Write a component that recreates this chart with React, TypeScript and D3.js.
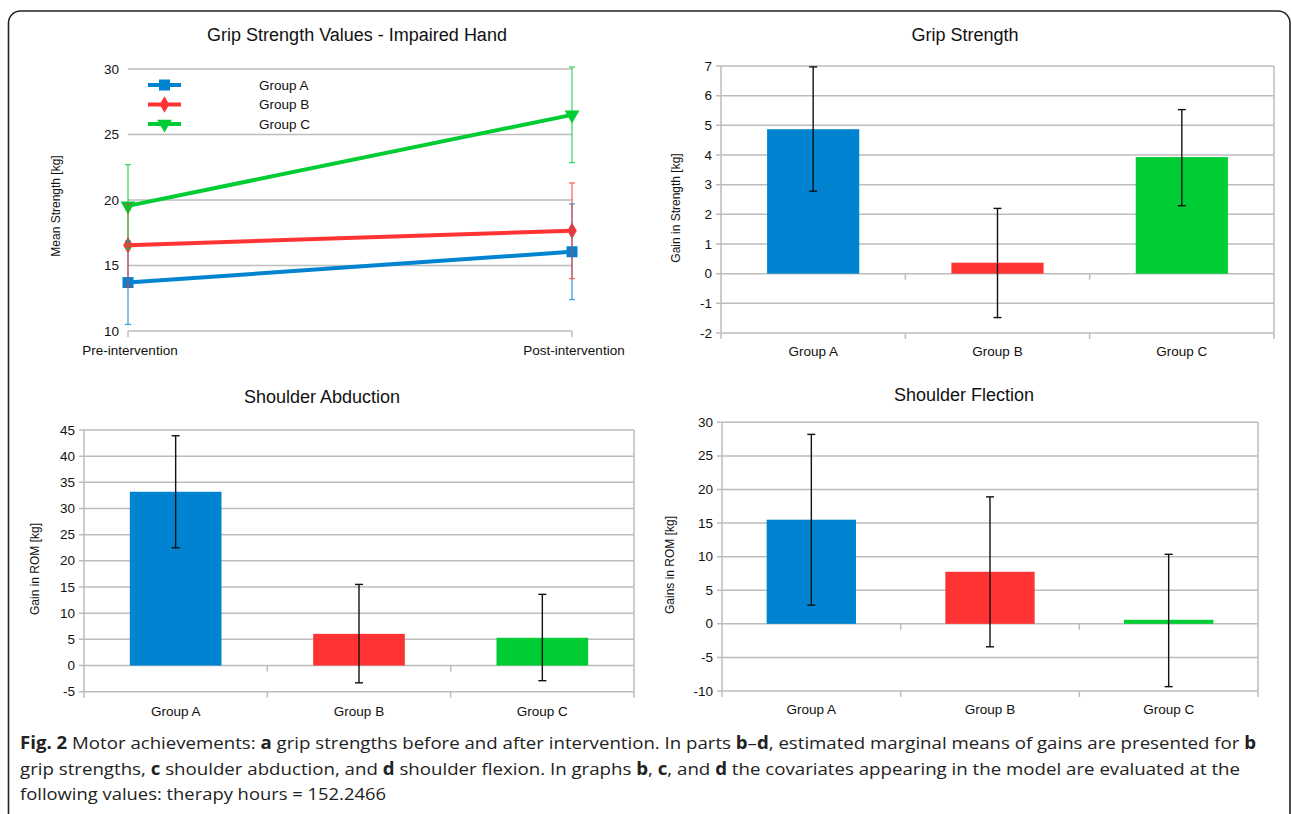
import React from "react";
import * as d3 from "d3";

// ---------- data ----------
const groups = ["Group A", "Group B", "Group C"];
const groupColors = ["#0084d1", "#ff3333", "#00cc33"];

// (a) grip strength values, impaired hand
const phases = ["Pre-intervention", "Post-intervention"];
const gripMeanA = [13.7, 16.05];
const gripLowA = [10.5, 12.4];
const gripHighA = [16.85, 19.7];
const gripMeanB = [16.55, 17.65];
const gripLowB = [13.4, 14.0];
const gripHighB = [19.7, 21.3];
const gripMeanC = [19.55, 26.5];
const gripLowC = [16.3, 22.85];
const gripHighC = [22.7, 30.15];
const gripTicks = [10, 15, 20, 25, 30];

// (b) gain in grip strength
const gainGrip = [4.87, 0.37, 3.93];
const gainGripLow = [2.78, -1.48, 2.29];
const gainGripHigh = [6.97, 2.2, 5.53];
const gainGripTicks = [-2, -1, 0, 1, 2, 3, 4, 5, 6, 7];

// (c) shoulder abduction
const abduction = [33.2, 6.05, 5.3];
const abductionLow = [22.5, -3.3, -2.9];
const abductionHigh = [43.9, 15.5, 13.6];
const abductionTicks = [-5, 0, 5, 10, 15, 20, 25, 30, 35, 40, 45];

// (d) shoulder flection
const flection = [15.5, 7.75, 0.6];
const flectionLow = [2.78, -3.42, -9.35];
const flectionHigh = [28.2, 18.9, 10.35];
const flectionTicks = [-10, -5, 0, 5, 10, 15, 20, 25, 30];

const FONT = "'Liberation Sans', Arial, sans-serif";
const GRID = "#bdbdbd";

function GripLineChart() {
  const x = d3.scalePoint<string>().domain(phases).range([128, 572]);
  const y = d3.scaleLinear().domain([10, 30]).range([331, 69]);
  const series = [
    { mean: gripMeanA, low: gripLowA, high: gripHighA, sym: "square" },
    { mean: gripMeanB, low: gripLowB, high: gripHighB, sym: "diamond" },
    { mean: gripMeanC, low: gripLowC, high: gripHighC, sym: "tri" },
  ];
  const line = d3
    .line<number>()
    .x((_, i) => x(phases[i]) as number)
    .y((d) => y(d));
  const marker = (sym: string, cx: number, cy: number, color: string, key: string) => {
    if (sym === "square")
      return <rect key={key} x={cx - 5.5} y={cy - 5.5} width={11} height={11} fill={color} />;
    if (sym === "diamond")
      return (
        <path key={key} d={d3.symbol(d3.symbolDiamond, 80)() as string} transform={`translate(${cx},${cy})`} fill={color} />
      );
    return (
      <path key={key} d={d3.symbol(d3.symbolTriangle, 95)() as string} transform={`translate(${cx},${cy}) rotate(180)`} fill={color} />
    );
  };
  const [x0, x1] = x.range();
  return (
    <g fontFamily={FONT}>
      <text x={357} y={35} textAnchor="middle" dominantBaseline="central" fontSize={18} fill="#111">
        Grip Strength Values - Impaired Hand
      </text>
      {gripTicks.map((t) => (
        <g key={t}>
          <line x1={x0} x2={x1} y1={y(t)} y2={y(t)} stroke={GRID} strokeWidth={1.5} />
          <text x={119} y={y(t)} textAnchor="end" dominantBaseline="central" fontSize={13.5} fill="#111">
            {t}
          </text>
        </g>
      ))}
      {phases.map((p) => (
        <g key={p}>
          <line x1={x(p)} x2={x(p)} y1={y(10)} y2={y(10) + 6} stroke={GRID} strokeWidth={1.5} />
          <text x={(x(p) as number) + 2} y={350} textAnchor="middle" dominantBaseline="central" fontSize={13.5} fill="#111">
            {p}
          </text>
        </g>
      ))}
      <text
        transform={`translate(56,206) rotate(-90)`}
        textAnchor="middle"
        dominantBaseline="central"
        fontSize={12}
        fill="#111"
      >
        Mean Strength [kg]
      </text>
      {series.map((s, si) => (
        <path key={"l" + si} d={line(s.mean) as string} fill="none" stroke={groupColors[si]} strokeWidth={4} />
      ))}
      {series.map((s, si) => s.mean.map((m, i) => marker(s.sym, x(phases[i]) as number, y(m), groupColors[si], `m${si}${i}`)))}
      {series.map((s, si) =>
        s.mean.map((_, i) => {
          const cx = x(phases[i]) as number;
          return (
            <g key={`e${si}${i}`} stroke={groupColors[si]} strokeWidth={1.3} opacity={0.75}>
              <line x1={cx} x2={cx} y1={y(s.low[i])} y2={y(s.high[i])} />
              <line x1={cx - 3} x2={cx + 3} y1={y(s.low[i])} y2={y(s.low[i])} />
              <line x1={cx - 3} x2={cx + 3} y1={y(s.high[i])} y2={y(s.high[i])} />
            </g>
          );
        })
      )}
      {groups.map((g, i) => {
        const ly = 85 + i * 19.5;
        return (
          <g key={g}>
            <line x1={148} x2={181} y1={ly} y2={ly} stroke={groupColors[i]} strokeWidth={4} />
            {marker(series[i].sym, 164.5, ly, groupColors[i], "lg" + i)}
            <text x={259} y={ly} dominantBaseline="central" fontSize={13.5} fill="#111">
              {g}
            </text>
          </g>
        );
      })}
    </g>
  );
}

type BarProps = {
  title: string;
  titleX: number;
  titleY: number;
  yTitle: string;
  yTitleX: number;
  yTitleY: number;
  left: number;
  right: number;
  top: number;
  bottom: number;
  ticks: number[];
  values: number[];
  lows: number[];
  highs: number[];
  tickX: number;
  labelY: number;
};

function BarChart(p: BarProps) {
  const lo = p.ticks[0];
  const hi = p.ticks[p.ticks.length - 1];
  const y = d3.scaleLinear().domain([lo, hi]).range([p.bottom, p.top]);
  const x = d3.scaleBand<string>().domain(groups).range([p.left, p.right]).paddingInner(0.5).paddingOuter(0.25);
  const step = x.step();
  const bounds = [0, 1, 2, 3].map((i) => p.left + i * step);
  return (
    <g fontFamily={FONT}>
      <text x={p.titleX} y={p.titleY} textAnchor="middle" dominantBaseline="central" fontSize={18} fill="#111">
        {p.title}
      </text>
      {p.ticks.map((t) => (
        <g key={t}>
          <line x1={p.left - 5} x2={p.right} y1={y(t)} y2={y(t)} stroke={GRID} strokeWidth={1.5} />
          <text x={p.tickX} y={y(t)} textAnchor="end" dominantBaseline="central" fontSize={13.5} fill="#111">
            {t}
          </text>
        </g>
      ))}
      <line x1={p.left} x2={p.left} y1={p.top} y2={p.bottom + 6} stroke={GRID} strokeWidth={1.5} />
      <line x1={p.right} x2={p.right} y1={p.top} y2={p.bottom + 6} stroke={GRID} strokeWidth={1.5} />
      {bounds.slice(1, 3).map((b, i) => (
        <g key={i}>
          <line x1={b} x2={b} y1={y(0)} y2={y(0) + 6} stroke={GRID} strokeWidth={1.5} />
          <line x1={b} x2={b} y1={p.bottom} y2={p.bottom + 6} stroke={GRID} strokeWidth={1.5} />
        </g>
      ))}
      <text
        transform={`translate(${p.yTitleX},${p.yTitleY}) rotate(-90)`}
        textAnchor="middle"
        dominantBaseline="central"
        fontSize={12}
        fill="#111"
      >
        {p.yTitle}
      </text>
      {groups.map((g, i) => {
        const v = p.values[i];
        const bx = x(g) as number;
        const cx = bx + x.bandwidth() / 2;
        return (
          <g key={g}>
            <rect
              x={bx}
              width={x.bandwidth()}
              y={Math.min(y(v), y(0))}
              height={Math.abs(y(v) - y(0))}
              fill={groupColors[i]}
            />
            <text x={cx} y={p.labelY} textAnchor="middle" dominantBaseline="central" fontSize={13.5} fill="#111">
              {g}
            </text>
          </g>
        );
      })}
      {groups.map((g, i) => {
        const cx = (x(g) as number) + x.bandwidth() / 2;
        const yl = y(p.lows[i]);
        const yh = y(p.highs[i]);
        return (
          <g key={"e" + g} stroke="#111" strokeWidth={1.4}>
            <line x1={cx} x2={cx} y1={yl} y2={yh} />
            <line x1={cx - 4} x2={cx + 4} y1={yl} y2={yl} />
            <line x1={cx - 4} x2={cx + 4} y1={yh} y2={yh} />
          </g>
        );
      })}
    </g>
  );
}

function Caption() {
  const fam = "'Open Sans', 'Noto Sans', sans-serif";
  return (
    <g fontFamily={fam} fontSize={17} fill="#222">
      <text x={20} y={749} textLength={1236} lengthAdjust="spacingAndGlyphs">
        <tspan fontWeight="bold">Fig. 2</tspan> Motor achievements: <tspan fontWeight="bold">a</tspan> grip strengths
        before and after intervention. In parts <tspan fontWeight="bold">b</tspan>–<tspan fontWeight="bold">d</tspan>,
        estimated marginal means of gains are presented for <tspan fontWeight="bold">b</tspan>
      </text>
      <text x={20} y={775} textLength={1220} lengthAdjust="spacingAndGlyphs">
        grip strengths, <tspan fontWeight="bold">c</tspan> shoulder abduction, and <tspan fontWeight="bold">d</tspan>{" "}
        shoulder flexion. In graphs <tspan fontWeight="bold">b</tspan>, <tspan fontWeight="bold">c</tspan>, and{" "}
        <tspan fontWeight="bold">d</tspan> the covariates appearing in the model are evaluated at the
      </text>
      <text x={20} y={800} textLength={366} lengthAdjust="spacingAndGlyphs">
        following values: therapy hours = 152.2466
      </text>
    </g>
  );
}

export default function App() {
  return (
    <svg
      width={1292}
      height={814}
      viewBox="0 0 1292 814"
      style={{ position: "absolute", left: 0, top: 0, background: "#fff" }}
    >
      <rect x={0} y={0} width={1292} height={814} fill="#fff" />
      <rect x={8.5} y={11} width={1281.5} height={900} rx={12} fill="none" stroke="#222" strokeWidth={1.6} />
      <GripLineChart />
      <BarChart
        title="Grip Strength"
        titleX={965}
        titleY={35}
        yTitle="Gain in Strength [kg]"
        yTitleX={676}
        yTitleY={208}
        left={721}
        right={1274}
        top={66}
        bottom={333}
        ticks={gainGripTicks}
        values={gainGrip}
        lows={gainGripLow}
        highs={gainGripHigh}
        tickX={712}
        labelY={351}
      />
      <BarChart
        title="Shoulder Abduction"
        titleX={322}
        titleY={397}
        yTitle="Gain in ROM [kg]"
        yTitleX={35}
        yTitleY={569}
        left={84}
        right={634}
        top={430}
        bottom={691.7}
        ticks={abductionTicks}
        values={abduction}
        lows={abductionLow}
        highs={abductionHigh}
        tickX={75}
        labelY={711}
      />
      <BarChart
        title="Shoulder Flection"
        titleX={964}
        titleY={395}
        yTitle="Gains in ROM [kg]"
        yTitleX={670}
        yTitleY={565}
        left={722}
        right={1258}
        top={422.3}
        bottom={691}
        ticks={flectionTicks}
        values={flection}
        lows={flectionLow}
        highs={flectionHigh}
        tickX={713}
        labelY={709}
      />
      <Caption />
    </svg>
  );
}
